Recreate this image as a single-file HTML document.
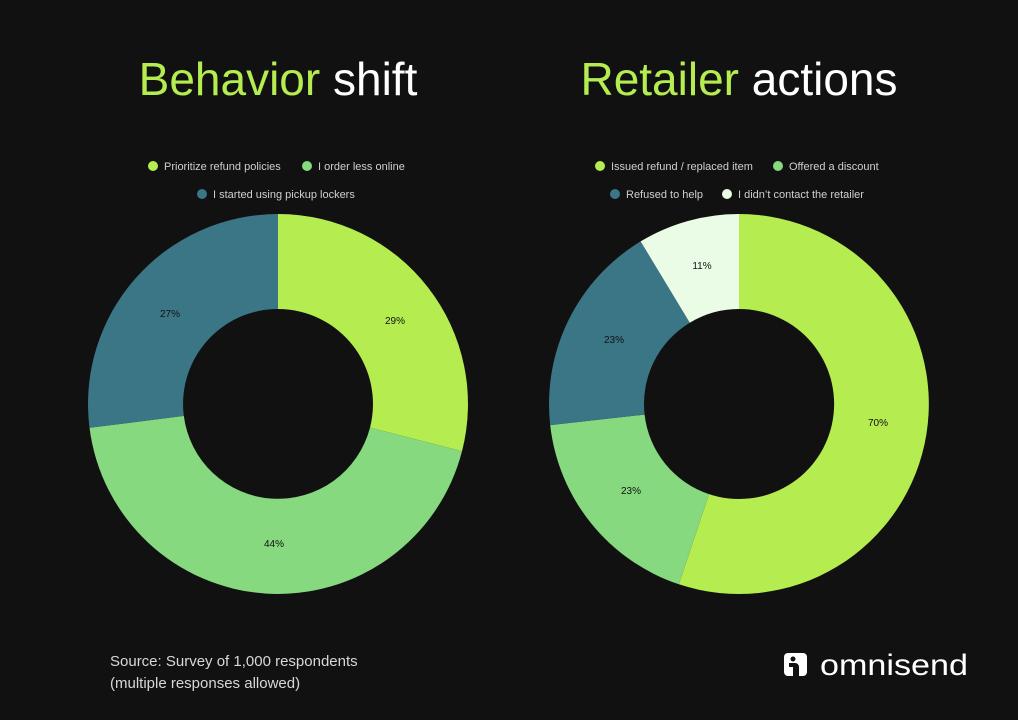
<!DOCTYPE html>
<html><head><style>
html,body{margin:0;padding:0;background:#111111;}
svg{display:block;font-family:"Liberation Sans",sans-serif;}
</style></head><body>
<svg width="1018" height="720" viewBox="0 0 1018 720">
<rect width="1018" height="720" fill="#111111"/>
<text x="278" y="95" text-anchor="middle" font-size="46" fill="#fff"><tspan fill="#b5ec4f">Behavior</tspan> shift</text>
<text x="739" y="95" text-anchor="middle" font-size="46" fill="#fff"><tspan fill="#b5ec4f">Retailer</tspan> actions</text>
<g font-size="11" fill="#d0d0d0">
<circle cx="153" cy="166" r="5" fill="#b5ec4f"/><text x="164" y="170">Prioritize refund policies</text>
<circle cx="307" cy="166" r="5" fill="#86d97f"/><text x="318" y="170">I order less online</text>
<circle cx="202" cy="194" r="5" fill="#3a7686"/><text x="213" y="198">I started using pickup lockers</text>
<circle cx="600" cy="166" r="5" fill="#b5ec4f"/><text x="611" y="170">Issued refund / replaced item</text>
<circle cx="778" cy="166" r="5" fill="#86d97f"/><text x="789" y="170">Offered a discount</text>
<circle cx="615" cy="194" r="5" fill="#3a7686"/><text x="626" y="198">Refused to help</text>
<circle cx="727" cy="194" r="5" fill="#eafbe6"/><text x="738" y="198">I didn’t contact the retailer</text>
</g>
<path d="M278,214 A190,190 0 0 1 462.0,451.3 L370.0,427.6 A95,95 0 0 0 278,309 Z" fill="#b5ec4f"/>
<path d="M462.0,451.3 A190,190 0 0 1 89.5,427.8 L183.8,415.9 A95,95 0 0 0 370.0,427.6 Z" fill="#86d97f"/>
<path d="M89.5,427.8 A190,190 0 0 1 278,214 L278,309 A95,95 0 0 0 183.8,415.9 Z" fill="#3a7686"/>
<path d="M739,214 A190,190 0 1 1 678.9,584.3 L709.0,494.1 A95,95 0 1 0 739,309 Z" fill="#b5ec4f"/>
<path d="M678.9,584.3 A190,190 0 0 1 550.2,425.1 L644.6,414.6 A95,95 0 0 0 709.0,494.1 Z" fill="#86d97f"/>
<path d="M550.2,425.1 A190,190 0 0 1 640.6,241.4 L689.8,322.7 A95,95 0 0 0 644.6,414.6 Z" fill="#3a7686"/>
<path d="M640.6,241.4 A190,190 0 0 1 739,214 L739,309 A95,95 0 0 0 689.8,322.7 Z" fill="#eafbe6"/>
<g font-size="10" fill="#111" text-anchor="middle">
<text x="395" y="324">29%</text><text x="274" y="547">44%</text><text x="170" y="317">27%</text>
<text x="878" y="426">70%</text><text x="631" y="494">23%</text><text x="614" y="343">23%</text><text x="702" y="269">11%</text>
</g>
<text x="110" y="666" font-size="15" fill="#d8d8d8">Source: Survey of 1,000 respondents</text>
<text x="110" y="688" font-size="15" fill="#d8d8d8">(multiple responses allowed)</text>
<rect x="784" y="653" width="23" height="23" rx="4" fill="#fff"/>
<circle cx="793" cy="659" r="2.5" fill="#111"/>
<path d="M789,663 h6 a4,4 0 0 1 4,4 v9 h-6 v-9 h-4 z" fill="#111"/>
<text x="820" y="675" font-size="30" fill="#fff" textLength="148" lengthAdjust="spacingAndGlyphs">omnisend</text>
</svg>
</body></html>
